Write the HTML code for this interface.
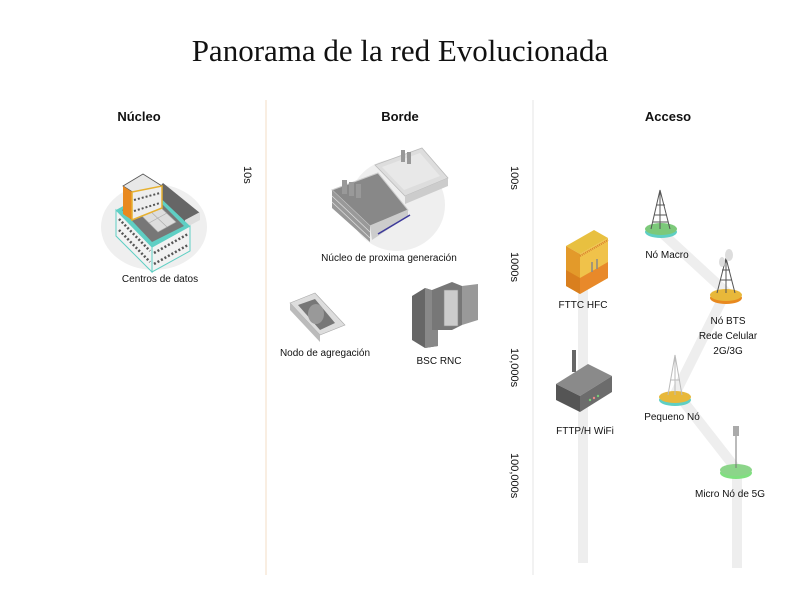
<!DOCTYPE html>
<html><head><meta charset="utf-8"><style>
body{margin:0;background:#fff;width:800px;height:600px;overflow:hidden}
text{font-family:"Liberation Sans",sans-serif;fill:#111}
</style></head><body>
<svg width="800" height="600" viewBox="0 0 800 600" xmlns="http://www.w3.org/2000/svg">
<text x="400" y="61" text-anchor="middle" style="font-family:'Liberation Serif',serif;font-size:31px">Panorama de la red Evolucionada</text>
<text x="139" y="121" text-anchor="middle" font-size="13" font-weight="bold">Núcleo</text>
<text x="400" y="121" text-anchor="middle" font-size="13" font-weight="bold">Borde</text>
<text x="668" y="121" text-anchor="middle" font-size="13" font-weight="bold">Acceso</text>
<line x1="266" y1="100" x2="266" y2="575" stroke="#f3dcc6" stroke-width="1"/>
<line x1="533" y1="100" x2="533" y2="575" stroke="#e6e6e6" stroke-width="1"/>
<g font-size="11" fill="#333">
<text transform="translate(244,166) rotate(90)">10s</text>
<text transform="translate(511,166) rotate(90)">100s</text>
<text transform="translate(511,252) rotate(90)">1000s</text>
<text transform="translate(511,348) rotate(90)">10,000s</text>
<text transform="translate(511,453) rotate(90)">100,000s</text>
</g>
<g stroke="#eeeeee" stroke-width="10" fill="none">
<line x1="583" y1="250" x2="583" y2="563"/>
<polyline points="661,232 726,292 676,392 737,470 737,568"/>
</g>
<!-- data center -->
<ellipse cx="154" cy="227" rx="53" ry="43" fill="#efefef"/>
<polygon points="163,183 200,213 200,218 185,227 150,198" fill="#666"/>
<polygon points="185,220 200,212 200,220 185,228" fill="#ddd"/>
<polygon points="116,210 152,190 190,226 152,247" fill="#5fcfc4"/>
<polygon points="122,210 152,194 184,226 152,242" fill="#777"/>
<polygon points="140,214 157,204 176,222 158,232" fill="#ddd" stroke="#aaa" stroke-width="0.6"/>
<line x1="148" y1="209" x2="167" y2="227" stroke="#aaa" stroke-width="0.6"/>
<line x1="149" y1="223" x2="167" y2="213" stroke="#aaa" stroke-width="0.6"/>
<polygon points="116,210 152,247 152,272 116,236" fill="#f2f2f2" stroke="#5fcfc4" stroke-width="1"/>
<polygon points="152,247 190,226 190,251 152,272" fill="#f2f2f2" stroke="#5fcfc4" stroke-width="1"/>
<g stroke="#555" stroke-width="2.5" stroke-dasharray="2,2">
<line x1="119" y1="219" x2="150" y2="251"/><line x1="119" y1="230" x2="150" y2="262"/>
<line x1="154" y1="253" x2="188" y2="234"/><line x1="154" y1="264" x2="188" y2="245"/>
</g>
<polygon points="123,186 143,174 162,186 142,198" fill="#e8e8e8" stroke="#555" stroke-width="0.8"/>
<polygon points="123,186 132,192 132,220 123,214" fill="#e8891f"/>
<polygon points="132,192 162,186 162,208 132,220" fill="#eee" stroke="#e6b030" stroke-width="1.5"/>
<g stroke="#555" stroke-width="2" stroke-dasharray="2,2"><line x1="134" y1="200" x2="160" y2="193"/><line x1="134" y1="211" x2="160" y2="203"/></g>
<text x="160" y="282" text-anchor="middle" font-size="10">Centros de datos</text>
<!-- nucleo prox -->
<ellipse cx="397" cy="205" rx="48" ry="46" fill="#efefef"/>
<polygon points="375,165 422,148 448,178 405,196" fill="#ddd" stroke="#bbb" stroke-width="0.8"/>
<polygon points="382,167 420,153 440,176 404,190" fill="#e8e8e8"/>
<polygon points="405,196 448,178 448,186 405,204" fill="#ccc"/>
<polygon points="332,190 378,173 408,210 370,226" fill="#888" stroke="#ccc" stroke-width="1"/>
<polygon points="332,190 370,226 370,242 332,208" fill="#999"/>
<g stroke="#ddd" stroke-width="0.8"><line x1="332" y1="196" x2="370" y2="232"/><line x1="332" y1="202" x2="370" y2="238"/></g>
<polygon points="370,226 408,210 408,216 372,240" fill="#ccc"/>
<line x1="378" y1="234" x2="410" y2="215" stroke="#3d3a9a" stroke-width="1.5"/>
<rect x="342" y="180" width="5" height="14" fill="#999"/><rect x="349" y="182" width="5" height="14" fill="#999"/><rect x="356" y="184" width="5" height="14" fill="#999"/>
<rect x="401" y="150" width="4" height="12" fill="#999"/><rect x="407" y="152" width="4" height="12" fill="#999"/>
<text x="389" y="261" text-anchor="middle" font-size="10">Núcleo de proxima generación</text>
<!-- nodo agregacion -->
<polygon points="290,303 315,293 345,325 320,335" fill="#ddd" stroke="#aaa" stroke-width="0.6"/>
<polygon points="290,303 320,335 320,342 290,310" fill="#bbb"/>
<polygon points="298,305 315,299 335,323 320,330" fill="#777"/>
<ellipse cx="316" cy="314" rx="8" ry="10" fill="#999"/>
<text x="325" y="356" text-anchor="middle" font-size="10">Nodo de agregación</text>
<!-- BSC RNC -->
<polygon points="412,296 425,288 438,292 438,346 425,348 412,340" fill="#666"/>
<polygon points="425,288 438,292 438,346 425,348" fill="#888"/>
<polygon points="432,290 452,282 462,286 462,325 452,330 432,330" fill="#777"/>
<rect x="444" y="290" width="14" height="36" fill="#ccc" stroke="#888" stroke-width="0.6"/>
<polygon points="462,286 478,284 478,320 462,325" fill="#999"/>
<text x="439" y="364" text-anchor="middle" font-size="10">BSC RNC</text>
<!-- FTTC HFC -->
<polygon points="566,246 594,230 608,238 580,254" fill="#e8c040"/>
<polygon points="566,246 580,254 580,294 566,286" fill="#e39a2a"/>
<polygon points="580,254 608,238 608,278 580,294" fill="#f0c24a"/>
<polygon points="566,270 580,278 580,294 566,286" fill="#d97f1e"/>
<polygon points="580,278 608,262 608,278 580,294" fill="#e8892a"/>
<line x1="580" y1="256" x2="608" y2="240" stroke="#d88030" stroke-width="2" stroke-dasharray="1,1"/>
<line x1="592" y1="262" x2="592" y2="272" stroke="#888" stroke-width="1.5"/><line x1="597" y1="259" x2="597" y2="269" stroke="#888" stroke-width="1.5"/>
<text x="583" y="308" text-anchor="middle" font-size="10">FTTC HFC</text>
<!-- router -->
<rect x="572" y="350" width="4" height="22" fill="#666"/>
<polygon points="556,384 588,364 612,376 580,396" fill="#8a8a8a"/>
<polygon points="556,384 580,396 580,412 556,400" fill="#555"/>
<polygon points="580,396 612,376 612,392 580,412" fill="#6c6c6c"/>
<circle cx="590" cy="400" r="1.2" fill="#7c7"/><circle cx="594" cy="398" r="1.2" fill="#e88"/><circle cx="598" cy="396" r="1.2" fill="#7c7"/>
<text x="585" y="434" text-anchor="middle" font-size="10">FTTP/H WiFi</text>
<!-- macro -->
<ellipse cx="661" cy="232" rx="16" ry="6" fill="#5fcfc4"/><ellipse cx="661" cy="229" rx="16" ry="6" fill="#7cc97a"/>
<g stroke="#555" stroke-width="1" fill="none"><polyline points="651,229 660,190 670,229"/><line x1="660" y1="190" x2="660" y2="229"/><line x1="654" y1="215" x2="667" y2="215"/><line x1="656" y1="205" x2="665" y2="205"/><line x1="653" y1="222" x2="668" y2="222"/></g>
<text x="667" y="258" text-anchor="middle" font-size="10">Nó Macro</text>
<!-- BTS -->
<ellipse cx="726" cy="298" rx="16" ry="6" fill="#e8891f"/><ellipse cx="726" cy="295" rx="16" ry="6" fill="#e8b83a"/>
<g stroke="#555" stroke-width="1" fill="none"><polyline points="717,293 726,258 735,293"/><line x1="726" y1="258" x2="726" y2="293"/><line x1="720" y1="280" x2="732" y2="280"/><line x1="722" y1="270" x2="730" y2="270"/></g>
<ellipse cx="729" cy="255" rx="4" ry="6" fill="#ddd"/><ellipse cx="722" cy="262" rx="3" ry="5" fill="#ddd"/>
<text x="728" y="324" text-anchor="middle" font-size="10">Nó BTS</text>
<text x="728" y="339" text-anchor="middle" font-size="10">Rede Celular</text>
<text x="728" y="354" text-anchor="middle" font-size="10">2G/3G</text>
<!-- pequeno -->
<ellipse cx="675" cy="400" rx="16" ry="6" fill="#5fcfc4"/><ellipse cx="675" cy="397" rx="16" ry="6" fill="#e8b83a"/>
<g stroke="#bbb" stroke-width="1" fill="none"><polyline points="668,395 675,355 682,395"/><line x1="675" y1="355" x2="675" y2="395"/><line x1="670" y1="380" x2="680" y2="380"/></g>
<text x="672" y="420" text-anchor="middle" font-size="10">Pequeno Nó</text>
<!-- micro -->
<ellipse cx="736" cy="473" rx="16" ry="6" fill="#7fe07f"/><ellipse cx="736" cy="470" rx="16" ry="6" fill="#8cd58a"/>
<line x1="736" y1="430" x2="736" y2="468" stroke="#777" stroke-width="1"/>
<rect x="733" y="426" width="6" height="10" fill="#aaa"/>
<text x="730" y="497" text-anchor="middle" font-size="10">Micro Nó de 5G</text>
</svg>
</body></html>
